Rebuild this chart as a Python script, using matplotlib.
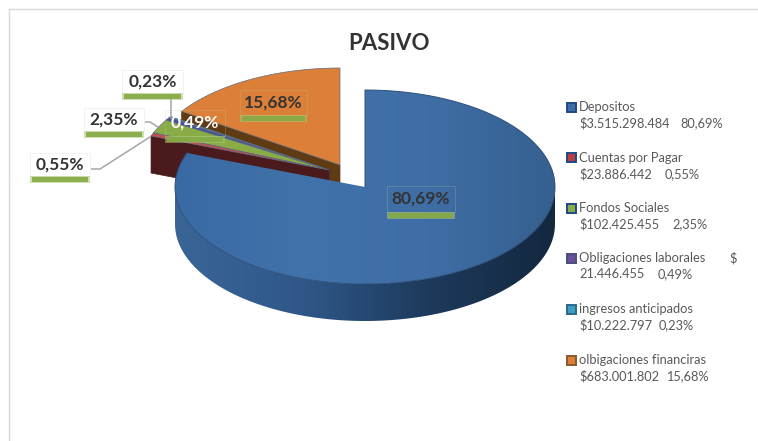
import matplotlib
matplotlib.use("Agg")
import matplotlib.pyplot as plt
import numpy as np
from matplotlib.colors import LinearSegmentedColormap
from matplotlib.patches import Polygon, Rectangle

plt.rcParams['font.family'] = ['Lato', 'DejaVu Sans']

categories = ['Depositos', 'Cuentas por Pagar', 'Fondos Sociales', 'Obligaciones laborales',
              'ingresos anticipados', 'olbigaciones financiras']
amounts = ['$3.515.298.484', '$23.886.442', '$102.425.455', '21.446.455', '$10.222.797', '$683.001.802']
percents = [80.69, 0.55, 2.35, 0.49, 0.23, 15.68]
pct_labels = ['80,69%', '0,55%', '2,35%', '0,49%', '0,23%', '15,68%']

top_colors = ['#3f6ea6', '#c0504d', '#8aac46', '#4a4f9a', '#3f8fb0', '#dc7f38']
wall_colors = ['#1f3a5c', '#4a1a1c', '#1f4a86', '#23408c', '#1d5a8a', '#5f3b14']
legend_colors = ['#3f6ea6', '#b5403d', '#8aac46', '#6a4f9a', '#3f9fc0', '#dc7f38']
legend_edges = ['#1f4a86', '#1f4a86', '#1f4a86', '#4a4f7a', '#2a6a8a', '#8a5a2a']

CX, CY, RX, RY, DEPTH = 365, 187, 190, 97, 37
# how far each slice is pulled out of the pie, in pixels
OFFSETS = [(0, 0), (-36, -17), (-36, -17), (-36, -17), (-36, -17), (-25, -22)]

fig = plt.figure(figsize=(7.58, 4.41), dpi=100)
ax = fig.add_axes([0, 0, 1, 1])
ax.set_xlim(0, 758)
ax.set_ylim(441, 0)
ax.axis('off')


def arc(cx, cy, t0, t1, n=120):
    t = np.radians(np.linspace(t0, t1, n))
    return np.column_stack([cx + RX * np.sin(t), cy - RY * np.cos(t)])


def gradient_fill(poly, colors, extent, z=1):
    cmap = LinearSegmentedColormap.from_list('g', colors)
    grad = np.linspace(0, 1, 256)[None, :]
    im = ax.imshow(grad, cmap=cmap, extent=extent, aspect='auto', zorder=z)
    patch = Polygon(poly, closed=True, transform=ax.transData, fc='none', ec='none')
    ax.add_patch(patch)
    im.set_clip_path(patch)


# slice angles, clockwise from 12 o'clock
edges = np.concatenate([[0], np.cumsum(percents) / sum(percents) * 360])
centers = [(CX + dx, CY + dy) for dx, dy in OFFSETS]

# exploded slices go in back to front: orange first, blue last
z = 2
for i in [5, 4, 3, 2, 1]:
    cx, cy = centers[i]
    a = arc(cx, cy, edges[i], edges[i + 1])
    tip = np.array([cx, cy])
    lower = np.array([a[0], tip, tip + [0, DEPTH], a[0] + [0, DEPTH]])
    ax.add_patch(Polygon(lower, closed=True, fc=wall_colors[i], ec=wall_colors[i], lw=.5, zorder=z))
    top = np.vstack([[tip], a])
    ax.add_patch(Polygon(top, closed=True, fc=top_colors[i], ec='#5f6b80', lw=.5, zorder=z + 1))
    z += 2

# blue slice
cx, cy = centers[0]
front = arc(cx, cy, 90, 270)
wall = np.vstack([front, front[::-1] + [0, DEPTH]])
gradient_fill(wall, ['#3a6596', '#2f5889', '#1d3a5c', '#14283f'],
              (cx - RX, cx + RX, cy + RY + DEPTH, cy), z=20)
blue = np.vstack([[[cx, cy]], arc(cx, cy, edges[0], edges[1], 240)])
gradient_fill(blue, ['#3a6aa3', '#4272aa', '#3f6ea6', '#35608f'],
              (cx - RX, cx + RX, cy + RY, cy - RY), z=21)
ax.plot(blue[:, 0], blue[:, 1], color='#2c4f7c', lw=.7, zorder=22)

# data labels
label_boxes = {0: (387, 186, 68, 26), 5: (240, 90, 67, 25), 3: (165, 110, 60, 26),
               4: (122, 70, 61, 23), 2: (84, 108, 60, 23), 1: (30, 153, 60, 23)}
for i, (x, y, w, h) in label_boxes.items():
    if i in (1, 2, 4):
        ax.add_patch(Rectangle((x, y), w, h, fc='white', ec='#eef2e6', lw=.6, zorder=30))
    else:
        ax.add_patch(Rectangle((x, y), w, h, fc='none', ec='#b9c79a', lw=.5, alpha=.35, zorder=30))
    ax.add_patch(Rectangle((x, y + h), w, 7, fc='#a9c873', ec='none', alpha=.55, zorder=30))
    ax.add_patch(Rectangle((x + 2, y + h + 1), w - 4, 4.5, fc='#84aa44', ec='none', alpha=.9, zorder=30))
    ax.text(x + w / 2, y + h / 2, pct_labels[i], ha='center', va='center', fontsize=12.5, fontweight='bold',
            color='white' if i == 3 else '#333333', zorder=31)

# leader lines
leaders = [([171, 171], [91, 118]), ([142, 150, 158], [122, 122, 127]), ([90, 100, 150], [169, 169, 137])]
for xs, ys in leaders:
    ax.plot(xs, ys, color='#a6a6a6', lw=1.1, zorder=29)

# legend
legend_y = [107, 157.5, 208, 258, 309, 360]
pct_x = [680, 665, 672, 658, 659, 666]
for i, y in enumerate(legend_y):
    ax.add_patch(Rectangle((566.5, y - 4.5), 9, 9, fc=legend_colors[i], ec=legend_edges[i], lw=1.4, zorder=5))
    ax.text(579, y, categories[i], fontsize=9.3, color='#595959', va='center')
    ax.text(579, y + 16.5, amounts[i], fontsize=9.2, color='#595959', va='center')
    ax.text(pct_x[i], y + 16.5, pct_labels[i], fontsize=9.2, color='#595959', va='center')
ax.text(729, legend_y[3], '$', fontsize=9.3, color='#595959', va='center')

ax.text(389, 43, 'PASIVO', ha='center', va='center', fontsize=16, fontweight='bold', color='#333333')

# chart frame
ax.plot([9, 9], [441, 9], color='#d9d9d9', lw=1)
ax.plot([9, 758], [9, 9], color='#d9d9d9', lw=1)

ax.set_xlim(0, 758)
ax.set_ylim(441, 0)
fig.savefig('out.png', dpi=100)
